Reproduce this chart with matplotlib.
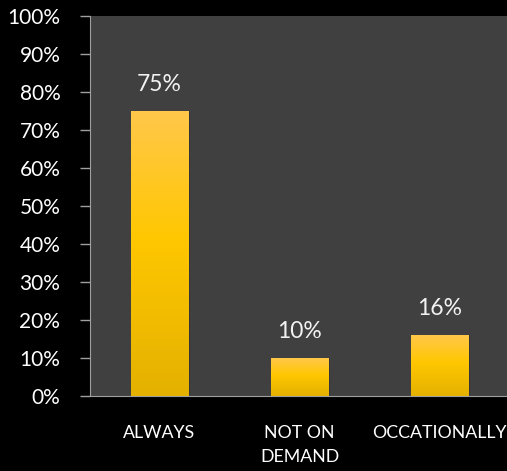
import matplotlib.pyplot as plt
import numpy as np
from matplotlib.colors import LinearSegmentedColormap

categories = ["ALWAYS", "NOT ON\nDEMAND", "OCCATIONALLY"]
values = [75, 10, 16]
value_labels = ["75%", "10%", "16%"]
yticks = list(range(0, 101, 10))

plt.rcParams["font.family"] = ["Lato", "DejaVu Sans"]

fig = plt.figure(figsize=(5.07, 4.71), dpi=100, facecolor="black")
ax = fig.add_axes([89.5 / 507, 75 / 471, 420 / 507, 380 / 471])
ax.set_facecolor("#404040")

x = np.arange(len(categories))
width = 0.41
bars = ax.bar(x, values, width=width, color="none", zorder=3)

# vertical gradient on each bar
grad = LinearSegmentedColormap.from_list(
    "gold", [(0, "#E4B100"), (0.55, "#FFC700"), (1, "#FFC84A")])
g = np.linspace(0, 1, 256).reshape(-1, 1)
for b in bars:
    x0, y0 = b.get_x(), b.get_y()
    w, h = b.get_width(), b.get_height()
    ax.imshow(g, cmap=grad, origin="lower", aspect="auto",
              extent=[x0, x0 + w, y0, y0 + h], zorder=3)
    # faint shadow on the right side
    ax.bar(x0 + w / 2 + 0.015, h, width=w, color="#000000", alpha=0.18, zorder=2)

for xi, v, lab in zip(x, values, value_labels):
    ax.text(xi, v + 7, lab, ha="center", va="center", color="#F2F2F2", fontsize=16.5)

ax.set_xlim(-0.5, 2.5)
ax.set_ylim(0, 100)
ax.set_yticks(yticks)
ax.set_yticklabels([f"{t}%" for t in yticks], color="white", fontsize=15)
ax.set_xticks(x)
ax.set_xticklabels(categories, color="white", fontsize=12.8, linespacing=1.6, va="top")
ax.tick_params(axis="x", length=0, pad=21)
ax.tick_params(axis="y", length=7, color="#A0A0A0", width=1, pad=14)

for side in ["top", "right"]:
    ax.spines[side].set_visible(False)
ax.spines["left"].set_color("#A0A0A0")
ax.spines["bottom"].set_color("#A0A0A0")

fig.savefig("out.png", dpi=100, facecolor="black")
